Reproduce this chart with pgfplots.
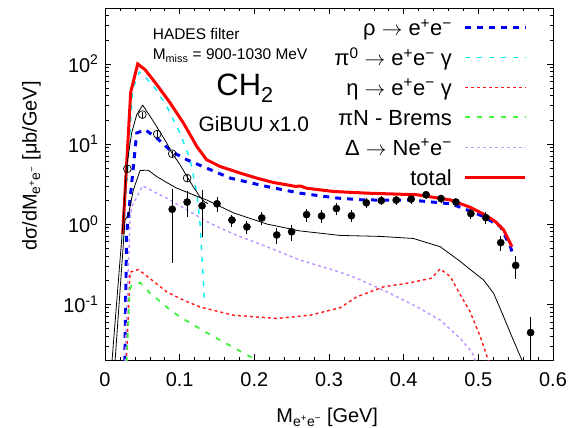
\documentclass[border=0pt]{standalone}
\usepackage{fontspec}
\setmainfont{Liberation Sans}
\usepackage{pgfplots}
\usepackage{pgfplotstable}
\pgfplotsset{compat=1.18}
\definecolor{rhoblue}{rgb}{0,0,0.95}
\definecolor{picyan}{rgb}{0,0.95,0.95}
\definecolor{etared}{rgb}{1,0.1,0.1}
\definecolor{bremgreen}{rgb}{0.25,0.95,0.25}
\definecolor{delpurple}{rgb}{0.76,0.6,1}
\definecolor{totred}{rgb}{1,0,0}

\pgfplotstableread{
x y e
0.09 1.53 1.2
0.11 1.88 0.67
0.13 1.69 1.0
0.15 1.79 0.37
0.17 1.12 0.19
0.19 0.92 0.18
0.21 1.19 0.22
0.23 0.73 0.16
0.25 0.80 0.18
0.27 1.31 0.25
0.29 1.26 0.22
0.31 1.56 0.25
0.33 1.27 0.22
0.35 1.84 0.25
0.37 1.96 0.25
0.39 1.99 0.25
0.41 2.05 0.27
0.43 2.32 0.27
0.45 2.08 0.25
0.47 1.88 0.22
0.49 1.35 0.20
0.51 1.20 0.20
0.53 0.585 0.13
0.55 0.304 0.10
0.57 0.044 0.025
}\filled

\pgfplotstableread{
x y e
0.03 4.9 0.4
0.05 23.3 2.0
0.07 13.3 1.2
0.09 7.56 0.7
0.11 3.75 0.4
}\openpts

\tikzset{
  rhostyle/.style={draw=rhoblue, line width=3bp, dash pattern=on 6bp off 6bp},
  pistyle/.style={draw=picyan, line width=1.4bp, dash pattern=on 5bp off 7bp},
  etastyle/.style={draw=etared, line width=1.4bp, dash pattern=on 3bp off 3bp},
  bremstyle/.style={draw=bremgreen, line width=1.8bp, dash pattern=on 5bp off 7bp},
  delstyle/.style={draw=delpurple, line width=1.5bp, dash pattern=on 3bp off 3bp},
  totstyle/.style={draw=totred, line width=3bp},
  legtext/.style={anchor=base east, font=\fontsize{22}{26}\selectfont, inner sep=0pt},
}

\begin{document}
\begin{tikzpicture}
\useasboundingbox (0,0) rectangle (579bp,428bp);
\begin{axis}[
  at={(105bp,68bp)}, anchor=south west,
  scale only axis, width=448bp, height=352bp,
  ymode=log, xmin=0, xmax=0.6, ymin=0.02, ymax=500,
  xtick={0,0.1,0.2,0.3,0.4,0.5,0.6},
  xticklabels={0,0.1,0.2,0.3,0.4,0.5,0.6},
  minor x tick num=4,
  ytick={0.1,1,10,100},
  yticklabels={10\textsuperscript{-1},10\textsuperscript{0},10\textsuperscript{1},10\textsuperscript{2}},
  minor ytick={0.02,0.03,0.04,0.05,0.06,0.07,0.08,0.09,0.2,0.3,0.4,0.5,0.6,0.7,0.8,0.9,2,3,4,5,6,7,8,9,20,30,40,50,60,70,80,90,200,300,400,500},
  major tick length=6bp, minor tick length=3.5bp,
  tick style={black, line width=0.6bp},
  axis line style={line width=0.9bp},
  xticklabel style={font=\fontsize{20}{24}\selectfont, yshift=-9bp},
  yticklabel style={font=\fontsize{20}{24}\selectfont, xshift=-3bp},
  xlabel={M\textsubscript{e\textsuperscript{+}e\textsuperscript{−}} [GeV]},
  ylabel={dσ/dM\textsubscript{e\textsuperscript{+}e\textsuperscript{−}} [μb/GeV]},
  every axis x label/.style={at={([yshift=-62.7bp]axis description cs:0.496,0)}, anchor=base, font=\fontsize{20}{24}\selectfont},
  every axis y label/.style={at={([xshift=-68.5bp]axis description cs:0,0.551)}, rotate=90, anchor=base, font=\fontsize{20}{24}\selectfont},
]
% rho
\addplot[rhostyle] coordinates {
(0.0265,0.019) (0.029,0.75) (0.0335,2.0) (0.0425,13.7) (0.0536,15.1) (0.0692,11.9)
(0.089,8.07) (0.1095,6.36) (0.136,5.0) (0.1676,3.75) (0.2167,2.94) (0.261,2.43)
(0.3106,2.11) (0.346,2.0) (0.413,1.98) (0.4625,1.79) (0.476,1.62) (0.507,1.24)
(0.5295,0.93) (0.543,0.52) (0.545,0.45)};
% pi0
\addplot[pistyle] coordinates {
(0.0245,0.6) (0.037,48) (0.046,79) (0.049,77.6) (0.067,50) (0.0827,29.6)
(0.1005,13.7) (0.114,6.4) (0.123,2.43) (0.1273,1.02) (0.133,0.12)};
% eta
\addplot[etastyle] coordinates {
(0.0285,0.019) (0.0335,0.25) (0.0447,0.27) (0.060,0.209) (0.0827,0.142) (0.105,0.112)
(0.127,0.092) (0.172,0.0726) (0.230,0.066) (0.275,0.0726) (0.315,0.090) (0.337,0.123)
(0.373,0.164) (0.409,0.185) (0.437,0.21) (0.449,0.275) (0.4625,0.22) (0.476,0.13)
(0.489,0.08) (0.5027,0.039) (0.514,0.019)};
% brems
\addplot[bremstyle] coordinates {
(0.029,0.019) (0.033,0.15) (0.0357,0.172) (0.047,0.185) (0.060,0.138) (0.085,0.088)
(0.1005,0.069) (0.1273,0.049) (0.1586,0.0336) (0.1988,0.0209) (0.201,0.0195)};
% Delta
\addplot[delstyle] coordinates {
(0.0268,0.019) (0.0335,1.12) (0.0357,1.65) (0.0505,3.0) (0.069,2.43) (0.0827,2.1)
(0.1095,1.5) (0.1408,1.02) (0.172,0.75) (0.2167,0.52) (0.261,0.355) (0.315,0.25)
(0.337,0.21) (0.3775,0.142) (0.418,0.092) (0.449,0.063) (0.476,0.037) (0.4915,0.025)
(0.496,0.0197)};
% total
\addplot[totstyle] coordinates {
(0.0237,0.75) (0.0344,44) (0.0438,100) (0.0536,85) (0.0692,55.4) (0.0871,32.7)
(0.105,18.3) (0.123,9.3) (0.136,6.36) (0.154,5.24) (0.181,4.33) (0.203,3.75)
(0.2256,3.30) (0.2435,3.09) (0.255,2.95) (0.262,2.98) (0.27,2.8) (0.306,2.55)
(0.351,2.43) (0.418,2.32) (0.4625,2.0) (0.489,1.62) (0.509,1.30) (0.523,1.07)
(0.534,0.84) (0.545,0.52)};
% black model lines
\addplot[black, line width=0.8bp] coordinates {
(0.0093,0.019) (0.0245,1.15) (0.0285,4.9) (0.0357,13.7) (0.0425,23.3) (0.0505,30.5)
(0.0648,19.2) (0.0827,10.3) (0.089,7.9) (0.1,5.6) (0.11,3.9) (0.118,2.94)
(0.127,2.2) (0.133,1.9) (0.138,1.8)};
\addplot[black, line width=0.8bp] coordinates {
(0.0134,0.019) (0.0268,1.12) (0.0313,1.3) (0.038,2.67) (0.047,4.67) (0.058,4.7)
(0.069,3.93) (0.0827,3.3) (0.096,2.81) (0.1095,2.5) (0.127,2.15) (0.136,2.0)
(0.172,1.38) (0.2167,1.0) (0.261,0.82) (0.315,0.72) (0.369,0.70) (0.413,0.66)
(0.449,0.52) (0.4625,0.42) (0.476,0.34) (0.485,0.29) (0.507,0.20) (0.5205,0.136)
(0.534,0.069) (0.545,0.039) (0.5586,0.0197) (0.562,0.016)};
% data
\addplot[only marks, mark=*, mark size=3.6bp, black,
  error bars/.cd, y dir=both, y explicit, error mark=none,
  error bar style={line width=0.9bp}]
  table[x=x, y=y, y error=e] {\filled};
\addplot[only marks, mark=o, mark size=3.9bp, black, line width=0.7bp,
  error bars/.cd, y dir=both, y explicit, error mark=none,
  error bar style={line width=0.7bp}]
  table[x=x, y=y, y error=e] {\openpts};
% legend key lines (drawn through the axis)
\addplot[rhostyle]  coordinates {(0.4826,284.2) (0.5630,284.2)};
\addplot[pistyle]   coordinates {(0.4826,119.6) (0.5630,119.6)};
\addplot[etastyle]  coordinates {(0.4826,50.77) (0.5630,50.77)};
\addplot[bremstyle] coordinates {(0.4826,21.54) (0.5630,21.54)};
\addplot[delstyle]  coordinates {(0.4826,9.07) (0.5630,9.07)};
\addplot[totstyle]  coordinates {(0.4826,3.815) (0.5630,3.815)};
% legend texts
\node[legtext] at (rel axis cs:0.7746,0.9213) {ρ $\rightarrow$ e\textsuperscript{+}e\textsuperscript{−}};
\node[legtext] at (rel axis cs:0.7746,0.8361) {π\textsuperscript{0} $\rightarrow$ e\textsuperscript{+}e\textsuperscript{−} γ};
\node[legtext] at (rel axis cs:0.7746,0.7517) {η $\rightarrow$ e\textsuperscript{+}e\textsuperscript{−} γ};
\node[legtext] at (rel axis cs:0.7746,0.6673) {πN - Brems};
\node[legtext] at (rel axis cs:0.7746,0.5821) {Δ $\rightarrow$ Ne\textsuperscript{+}e\textsuperscript{−}};
\node[legtext] at (rel axis cs:0.7746,0.4969) {total};
% annotations
\node[anchor=base west, font=\fontsize{15.5}{18}\selectfont] at (rel axis cs:0.099,0.911) {HADES filter};
\node[anchor=base west, font=\fontsize{15.5}{18}\selectfont] at (rel axis cs:0.099,0.854) {M\textsubscript{miss} = 900-1030 MeV};
\node[anchor=base west, font=\fontsize{31}{36}\selectfont] at (rel axis cs:0.241,0.75) {CH\textsubscript{2}};
\node[anchor=base west, font=\fontsize{21}{25}\selectfont] at (rel axis cs:0.201,0.649) {GiBUU x1.0};
\end{axis}
\end{tikzpicture}
\end{document}
